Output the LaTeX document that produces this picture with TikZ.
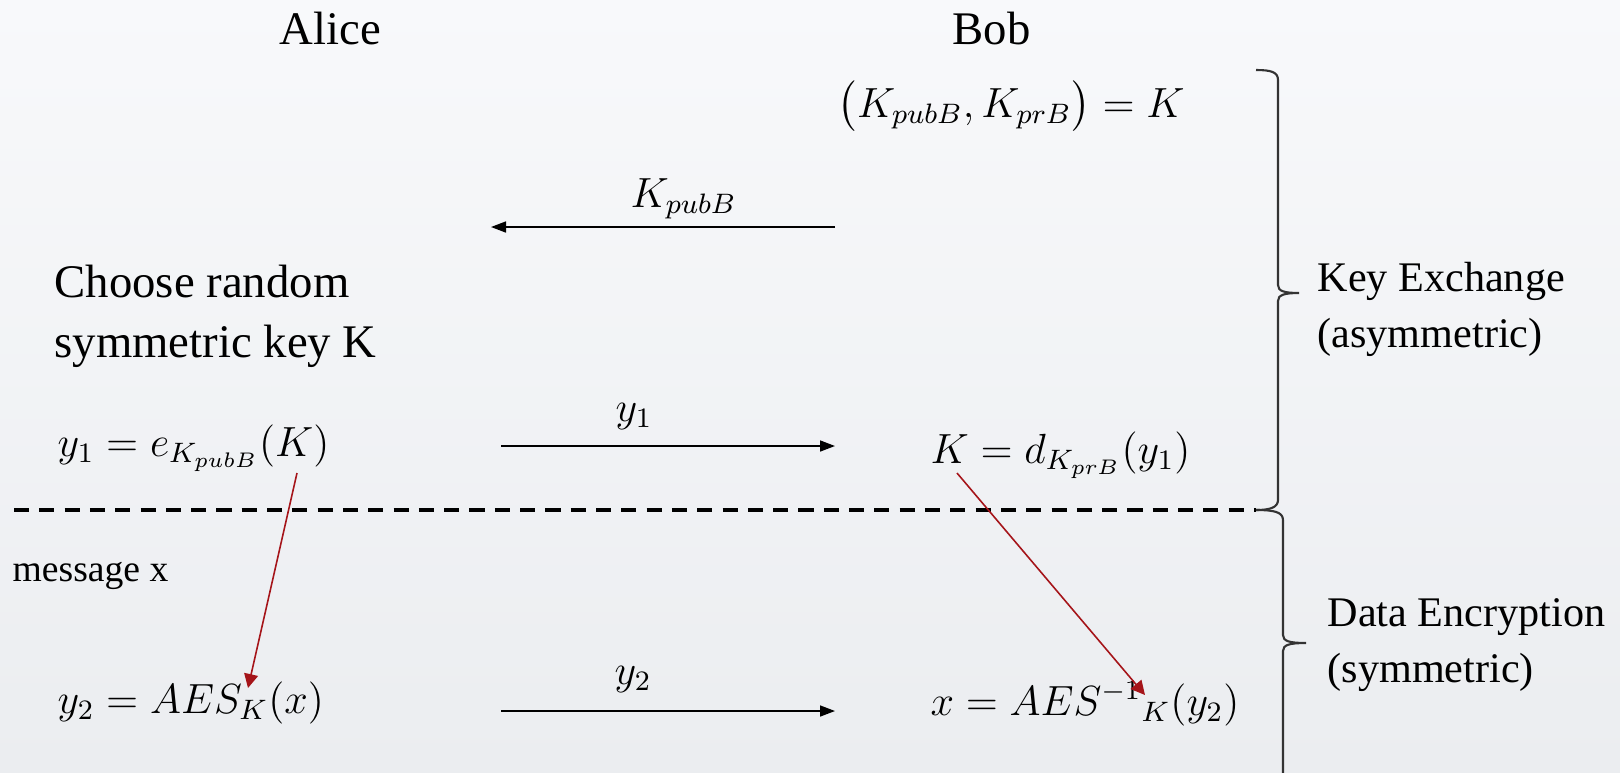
\documentclass[tikz,border=0pt]{standalone}
\usepackage{fontspec}
\setmainfont{Liberation Serif}
\usepackage{amsmath}
\usetikzlibrary{positioning, calc, arrows.meta}
\definecolor{bgtop}{RGB}{248,249,251}
\definecolor{bgbottom}{RGB}{235,237,240}
\definecolor{keyred}{RGB}{165,20,25}

\begin{document}
\begin{tikzpicture}[x=0.1mm, y=-0.1mm,
    font=\fontsize{13.3}{16.8}\selectfont,
    lbl/.style={anchor=base west, inner sep=0pt},
    eqn/.style={lbl, font=\fontsize{12}{15}\selectfont},
    msgarrow/.style={-{Triangle[length=1.5mm,width=1.1mm]}, line width=0.45pt},
    keyarrow/.style={-{Triangle[length=1.4mm,width=1.4mm]}, keyred, line width=0.45pt},
    brc/.style={line width=0.6pt, black!80}]
    % Background
    \shade[top color=bgtop, bottom color=bgbottom] (0,0) rectangle (1620,772);
    \useasboundingbox (0,0) rectangle (1620,772);

    % Parties
    \node[lbl] (alice) at (279,44) {Alice};
    \node[lbl] (bob) at (952,44) {Bob};

    % Bob's key pair
    \node[eqn] (keypair) at (837,117) {$\bigl(K_{pubB}, K_{prB}\bigr) = K$};

    % Public key to Alice
    \coordinate (pubstart) at (835,227);
    \coordinate (pubend) at (491,227);
    \draw[msgarrow] (pubstart) -- (pubend);
    \node[eqn] (kpub) at (630,207) {$K_{pubB}$};

    % Alice encrypts the session key
    \node[lbl, align=left] (choose) at (54,357) {Choose random\\symmetric key K};
    \node[eqn] (y1enc) at (57,456) {$y_1 = e_{K_{pubB}}(K)$};
    \coordinate (y1start) at (501,446);
    \coordinate (y1end) at (835,446);
    \draw[msgarrow] (y1start) -- (y1end);
    \node[eqn] (y1lbl) at (615,421) {$y_1$};
    \node[eqn] (kdec) at (930,463) {$K = d_{K_{prB}}(y_1)$};

    % Separator
    \coordinate (sepL) at (14,510);
    \coordinate (sepR) at (1256,510);
    \draw[line width=1.1pt, dash pattern=on 4.3pt off 2.9pt] (sepL) -- (sepR);

    % Data encryption
    \node[lbl, font=\fontsize{10.7}{13}\selectfont] (msg) at (12,581) {message x};
    \node[eqn] (y2enc) at (57,713) {$y_2 = AES_K(x)$};
    \coordinate (y2start) at (501,711);
    \coordinate (y2end) at (835,711);
    \draw[msgarrow] (y2start) -- (y2end);
    \node[eqn] (y2lbl) at (614,684) {$y_2$};
    \node[eqn] (xdec) at (930,715) {$x = AES^{-1}{}_{K}(y_2)$};

    % Key K used by AES
    \coordinate (encK) at (297,473);
    \coordinate (aesK) at (248,688);
    \coordinate (decK) at (957,473);
    \coordinate (invK) at (1145,695);
    \draw[keyarrow] (encK) -- (aesK);
    \draw[keyarrow] (decK) -- (invK);

    % Braces
    \draw[brc] (1256,70) .. controls (1271,70) and (1278,72) .. (1278,80) -- (1278,285)
        .. controls (1278,291) and (1284,293) .. (1299,293)
        .. controls (1284,293) and (1278,295) .. (1278,301) -- (1278,500)
        .. controls (1278,507) and (1271,510) .. (sepR);
    \draw[brc] (sepR) .. controls (1274,510) and (1283,512) .. (1283,520) -- (1283,635)
        .. controls (1283,641) and (1289,643) .. (1306,643)
        .. controls (1289,643) and (1283,645) .. (1283,651) -- (1283,780);
    \node[lbl, align=left, font=\fontsize{12}{15.9}\selectfont] (kx) at (1317,347) {Key Exchange\\(asymmetric)};
    \node[lbl, align=left, font=\fontsize{12}{15.9}\selectfont] (de) at (1327,682) {Data Encryption\\(symmetric)};
\end{tikzpicture}
\end{document}
